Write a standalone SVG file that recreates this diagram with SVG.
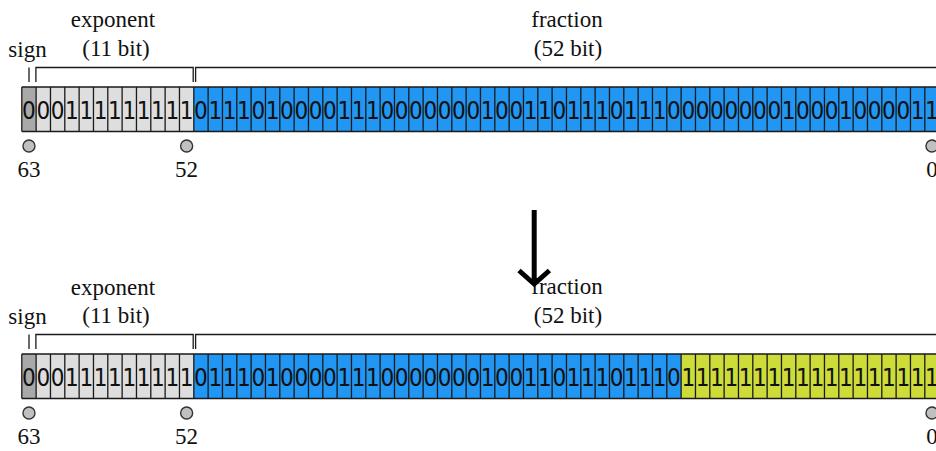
<svg xmlns="http://www.w3.org/2000/svg" width="936" height="451" viewBox="0 0 936 451">
<style>
.lbl{font-family:"Liberation Serif","Times New Roman",serif;font-size:23px;fill:#111;text-anchor:middle}
.bits{font-family:"DejaVu Sans Condensed","DejaVu Sans",sans-serif;font-stretch:condensed;font-size:24px;fill:#111;text-anchor:middle}
.sgn{fill:#a9a9a9}
.exp{fill:#dedede}
.frc{fill:#2196f3}
.new{fill:#cddc39}
.div{fill:none;stroke:#1a1a1a;stroke-width:1.3}
.brk{fill:none;stroke:#1a1a1a;stroke-width:1.3}
.dot{fill:#c0c0c0;stroke:#333;stroke-width:1.4}
.arr{fill:none;stroke:#000;stroke-width:5}
</style>
<defs>
<path id="dividers" class="div" d="M36.13 0v44.5M50.47 0v44.5M64.8 0v44.5M79.13 0v44.5M93.47 0v44.5M107.8 0v44.5M122.13 0v44.5M136.47 0v44.5M150.8 0v44.5M165.13 0v44.5M179.47 0v44.5M193.8 0v44.5M208.13 0v44.5M222.47 0v44.5M236.8 0v44.5M251.13 0v44.5M265.47 0v44.5M279.8 0v44.5M294.13 0v44.5M308.47 0v44.5M322.8 0v44.5M337.13 0v44.5M351.47 0v44.5M365.8 0v44.5M380.13 0v44.5M394.47 0v44.5M408.8 0v44.5M423.13 0v44.5M437.47 0v44.5M451.8 0v44.5M466.13 0v44.5M480.47 0v44.5M494.8 0v44.5M509.13 0v44.5M523.47 0v44.5M537.8 0v44.5M552.13 0v44.5M566.47 0v44.5M580.8 0v44.5M595.13 0v44.5M609.47 0v44.5M623.8 0v44.5M638.13 0v44.5M652.47 0v44.5M666.8 0v44.5M681.13 0v44.5M695.47 0v44.5M709.8 0v44.5M724.13 0v44.5M738.47 0v44.5M752.8 0v44.5M767.13 0v44.5M781.47 0v44.5M795.8 0v44.5M810.13 0v44.5M824.47 0v44.5M838.8 0v44.5M853.13 0v44.5M867.47 0v44.5M881.8 0v44.5M896.13 0v44.5M910.47 0v44.5M924.8 0v44.5M21.8 0h918M21.8 44.5h918M21.8 0v44.5"/>
</defs>
<rect width="936" height="451" fill="#fff"/>

<g id="row-original">
  <text class="lbl" x="27.5" y="56.5">sign</text>
  <text class="lbl" x="113" y="27">exponent</text>
  <text class="lbl" x="116" y="56">(11 bit)</text>
  <text class="lbl" x="567" y="26.5">fraction</text>
  <text class="lbl" x="568" y="55.5">(52 bit)</text>
  <path class="brk" d="M29 67.5V82M35.9 82V67.5H193.2V82M195.6 82V67.5H940"/>
  <rect class="sgn" x="21.8" y="87" width="14.33" height="44.5"/>
  <rect class="exp" x="36.13" y="87" width="157.67" height="44.5"/>
  <rect class="frc" x="193.8" y="87" width="745.33" height="44.5"/>
  <use href="#dividers" y="87"/>
  <text class="bits" y="118.5" x="28.97 43.3 57.63 71.97 86.3 100.63 114.97 129.3 143.63 157.97 172.3 186.63 200.97 215.3 229.63 243.97 258.3 272.63 286.97 301.3 315.63 329.97 344.3 358.63 372.97 387.3 401.63 415.97 430.3 444.63 458.97 473.3 487.63 501.97 516.3 530.63 544.97 559.3 573.63 587.97 602.3 616.63 630.97 645.3 659.63 673.97 688.3 702.63 716.97 731.3 745.63 759.97 774.3 788.63 802.97 817.3 831.63 845.97 860.3 874.63 888.97 903.3 917.63 931.97">0001111111110111010000111000000010011011101110000000010001000011</text>
  <circle class="dot" cx="28.97" cy="146" r="6"/>
  <circle class="dot" cx="186.63" cy="146" r="6"/>
  <circle class="dot" cx="931.97" cy="146" r="6"/>
  <text class="lbl" x="29" y="176.5">63</text>
  <text class="lbl" x="186.6" y="176.5">52</text>
  <text class="lbl" x="932" y="176.5">0</text>
</g>

<g id="row-modified">
  <text class="lbl" x="27.5" y="323.5">sign</text>
  <text class="lbl" x="113" y="294.5">exponent</text>
  <text class="lbl" x="116" y="323">(11 bit)</text>
  <text class="lbl" x="567" y="294">fraction</text>
  <text class="lbl" x="568" y="322.5">(52 bit)</text>
  <path class="brk" d="M29 334.5V349M35.9 349V334.5H193.2V349M195.6 349V334.5H940"/>
  <rect class="sgn" x="21.8" y="354" width="14.33" height="44.5"/>
  <rect class="exp" x="36.13" y="354" width="157.67" height="44.5"/>
  <rect class="frc" x="193.8" y="354" width="487.33" height="44.5"/>
  <rect class="new" x="681.13" y="354" width="258" height="44.5"/>
  <use href="#dividers" y="354"/>
  <text class="bits" y="385.5" x="28.97 43.3 57.63 71.97 86.3 100.63 114.97 129.3 143.63 157.97 172.3 186.63 200.97 215.3 229.63 243.97 258.3 272.63 286.97 301.3 315.63 329.97 344.3 358.63 372.97 387.3 401.63 415.97 430.3 444.63 458.97 473.3 487.63 501.97 516.3 530.63 544.97 559.3 573.63 587.97 602.3 616.63 630.97 645.3 659.63 673.97 688.3 702.63 716.97 731.3 745.63 759.97 774.3 788.63 802.97 817.3 831.63 845.97 860.3 874.63 888.97 903.3 917.63 931.97">0001111111110111010000111000000010011011101110111111111111111111</text>
  <circle class="dot" cx="28.97" cy="413" r="6"/>
  <circle class="dot" cx="186.63" cy="413" r="6"/>
  <circle class="dot" cx="931.97" cy="413" r="6"/>
  <text class="lbl" x="29" y="443.5">63</text>
  <text class="lbl" x="186.6" y="443.5">52</text>
  <text class="lbl" x="932" y="443.5">0</text>
</g>

<g id="connectors">
  <path class="arr" d="M534.2 210V282"/>
  <path class="arr" d="M519 270.5L534.2 284L549.4 270.5"/>
</g>
</svg>
